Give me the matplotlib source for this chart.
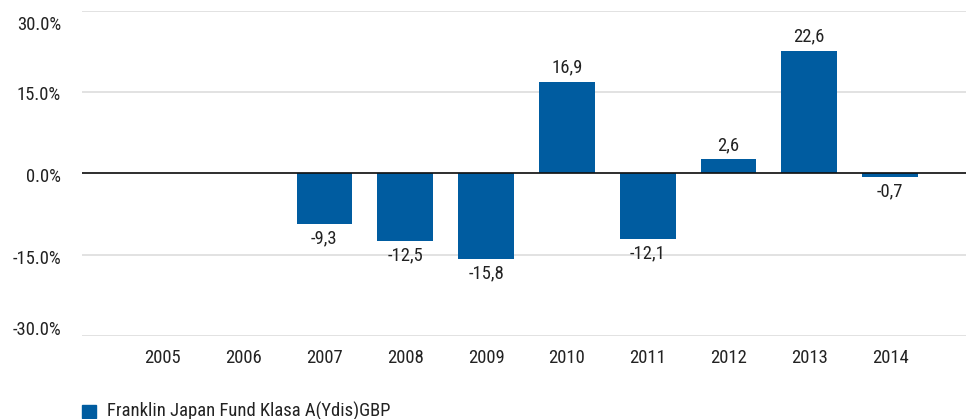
import matplotlib
matplotlib.use("Agg")
import matplotlib.pyplot as plt
from matplotlib.patches import Rectangle
from matplotlib.transforms import offset_copy

years = ["2005", "2006", "2007", "2008", "2009", "2010", "2011", "2012", "2013", "2014"]
values = [None, None, -9.3, -12.5, -15.8, 16.9, -12.1, 2.6, 22.6, -0.7]
yticks = [-30, -15, 0, 15, 30]
series_name = "Franklin Japan Fund Klasa A(Ydis)GBP"

plt.rcParams['font.family'] = ['Roboto Condensed', 'Liberation Sans Narrow', 'Arial Narrow',
                               'Liberation Sans', 'DejaVu Sans']
color = "#005CA0"
txt = "#222222"
fs = 13.4

fig = plt.figure(figsize=(9.66, 4.19), dpi=100)
ax = fig.add_axes([82/966, 1 - 336/419, 1 - 82/966, (336 - 11)/419])

xs = [i for i, v in enumerate(values) if v is not None]
vs = [v for v in values if v is not None]
ax.bar(xs, vs, width=0.69, color=color, zorder=3)

for x, v in zip(xs, vs):
    label = f"{v:.1f}".replace(".", ",")
    if v >= 0:
        ax.annotate(label, (x, v), xytext=(0, 4), textcoords="offset points",
                    ha="center", va="bottom", fontsize=fs, color=txt)
    else:
        ax.annotate(label, (x, v), xytext=(0, -4), textcoords="offset points",
                    ha="center", va="top", fontsize=fs, color=txt)

ax.set_xlim(-1, 9.94)
ax.set_ylim(-30, 30)
ax.set_yticks(yticks)
ax.set_yticklabels([])
ax.set_xticks(range(len(years)))
ax.set_xticklabels(years, fontsize=fs, color=txt)
ax.tick_params(axis="both", length=0)
ax.tick_params(axis="x", pad=9)

# y tick labels, nudged like the reference (top/bottom kept inside)
yoff_px = {30: -14, 15: -3, 0: -3, -15: -4, -30: 6}
for t in yticks:
    tr = offset_copy(ax.get_yaxis_transform(), fig=fig, x=-21, y=yoff_px[t], units="dots")
    ax.text(0, t, f"{t:.1f}%", transform=tr, ha="right", va="center",
            fontsize=fs, color=txt, clip_on=False)

ax.grid(axis="y", color="#dddddd", linewidth=1.2, zorder=0)
ax.axhline(0, color="#111111", linewidth=1.2, zorder=4)
for s in ax.spines.values():
    s.set_visible(False)

fig.patches.append(Rectangle((82/966, 1 - 418/419), 14/966, 13/419,
                             transform=fig.transFigure, color=color))
fig.text(107/966, 1 - 411/419, series_name, fontsize=fs, color=txt,
         va="center", ha="left")

fig.savefig("out.png", dpi=100)
